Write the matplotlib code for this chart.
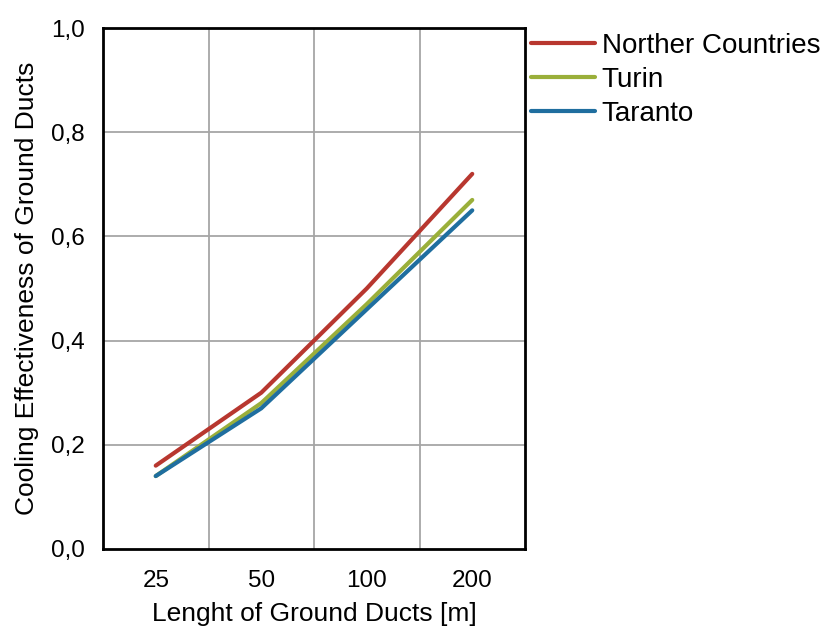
import matplotlib
matplotlib.use("Agg")
import matplotlib.pyplot as plt
from matplotlib.ticker import FuncFormatter

# ── data ─────────────────────────────────────────────────────────────────────
lengths  = ["25", "50", "100", "200"]
norther  = [0.16, 0.30, 0.50, 0.72]
turin    = [0.14, 0.28, 0.47, 0.67]
taranto  = [0.14, 0.27, 0.46, 0.65]

series = [
    ("Norther Countries", norther, "#b8372f"),
    ("Turin",             turin,   "#9aaf3a"),
    ("Taranto",           taranto, "#1f6e9f"),
]

plt.rcParams["font.family"] = ["Liberation Sans", "DejaVu Sans"]

fig = plt.figure(figsize=(8.24, 6.29), dpi=100)
ax = fig.add_axes([103/824, 1 - 549/629, 422/824, 521/629])

x = list(range(len(lengths)))
for name, vals, col in series:
    ax.plot(x, vals, color=col, linewidth=3, label=name, solid_capstyle="round")

ax.set_xlim(-0.5, len(lengths) - 0.5)
ax.set_ylim(0, 1.0)
ax.set_xticks(x)
ax.set_xticklabels(lengths)
ax.set_yticks([0, 0.2, 0.4, 0.6, 0.8, 1.0])
ax.yaxis.set_major_formatter(FuncFormatter(lambda v, p: f"{v:.1f}".replace(".", ",")))

# grid between categories (vertical) and at y ticks
for gx in [0.5, 1.5, 2.5]:
    ax.axvline(gx, color="#a6a6a6", linewidth=1.3, zorder=0)
for gy in [0.2, 0.4, 0.6, 0.8]:
    ax.axhline(gy, color="#a6a6a6", linewidth=1.3, zorder=0)

for s in ax.spines.values():
    s.set_color("black")
    s.set_linewidth(2)

ax.tick_params(axis="x", length=0, labelsize=17.5, pad=15)
ax.tick_params(axis="y", length=0, labelsize=17.5, pad=13)
ax.set_xlabel("Lenght of Ground Ducts [m]", fontsize=19, labelpad=7)
ax.set_ylabel("Cooling Effectiveness of Ground Ducts", fontsize=19, labelpad=9)

fig.legend(loc="upper left", bbox_to_anchor=(531/824, 1 - 33/629), frameon=False,
           fontsize=20, handlelength=2.3, handletextpad=0.25, labelspacing=0.29,
           borderaxespad=0, borderpad=0)

fig.savefig("out.png", dpi=100)
